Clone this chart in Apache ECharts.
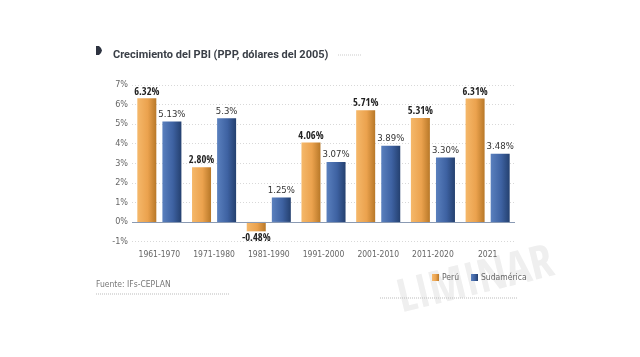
<!DOCTYPE html>
<html><head><meta charset="utf-8">
<script src="https://cdn.jsdelivr.net/npm/echarts@6/dist/echarts.min.js"></script>
<style>html,body{margin:0;padding:0;background:#fff}#c{width:640px;height:357px}</style>
</head><body><div id="c"></div>
<script>
const categories = ['1961-1970','1971-1980','1981-1990','1991-2000','2001-2010','2011-2020','2021'];
const peru = [6.32, 2.80, -0.48, 4.06, 5.71, 5.31, 6.31];
const peruLabels = ['6.32%','2.80%','-0.48%','4.06%','5.71%','5.31%','6.31%'];
const sud = [5.13, 5.3, 1.25, 3.07, 3.89, 3.30, 3.48];
const sudLabels = ['5.13%','5.3%','1.25%','3.07%','3.89%','3.30%','3.48%'];

const chart = echarts.init(document.getElementById('c'));
const cond = '"Open Sans Condensed", "DejaVu Sans Condensed", sans-serif';
const thin = '"DejaVu Sans Condensed", "Liberation Sans", sans-serif';
const orangeGrad = new echarts.graphic.LinearGradient(0,0,1,0,[
  {offset:0,color:'#F5B86A'},{offset:0.55,color:'#EBA24E'},{offset:1,color:'#B87828'}]);
const blueGrad = new echarts.graphic.LinearGradient(0,0,1,0,[
  {offset:0,color:'#5A80BE'},{offset:0.55,color:'#3E62A2'},{offset:1,color:'#24406F'}]);
const peruData = peru.map(v => v < 0 ? {value:v,label:{position:'bottom',distance:1}} : v);
chart.setOption({
  animation:false,
  backgroundColor:'#fff',
  grid:{left:132,right:125,top:85,bottom:115.5},
  title:{text:'Crecimiento del PBI (PPP, dólares del 2005)',left:108,top:45,
    textStyle:{fontFamily:'Roboto, sans-serif',fontSize:11,fontWeight:'bold',color:'#3a3f47'}},
  legend:{data:['Perú','Sudamérica'],left:427,top:268,itemWidth:7,itemHeight:7,itemGap:12,
    icon:'rect',textStyle:{fontFamily:thin,fontSize:8.5,color:'#666',padding:[0,0,0,-2]}},
  xAxis:{type:'category',data:categories,
    axisLine:{show:false},axisTick:{show:false},
    axisLabel:{interval:0,fontFamily:thin,fontSize:8.5,color:'#666',margin:9}},
  yAxis:{type:'value',min:-1,max:7,interval:1,
    axisLabel:{fontFamily:thin,fontSize:9,color:'#666',formatter:v=>v+'%',margin:4},
    axisLine:{show:false},axisTick:{show:false},
    splitLine:{lineStyle:{color:'#d8d8d8',type:[1,2],width:1}}},
  series:[
    {name:'Perú',type:'bar',data:peruData,barWidth:19,barGap:'32%',
     itemStyle:{color:orangeGrad},
     label:{show:true,position:'top',distance:1,fontFamily:cond,fontSize:10.5,fontWeight:'bold',color:'#222',
       formatter:p=>peruLabels[p.dataIndex]},
     markLine:{silent:true,symbol:'none',label:{show:false},lineStyle:{color:'#8a9ab3',type:'solid',width:1.2},data:[{yAxis:0}]}},
    {name:'Sudamérica',type:'bar',data:sud,barWidth:19,
     itemStyle:{color:blueGrad},
     label:{show:true,position:'top',distance:2,fontFamily:thin,fontSize:9.5,color:'#333',
       formatter:p=>sudLabels[p.dataIndex]}}
  ],
  color:['#EBA24E','#3E62A2'],
  graphic:[
    {type:'polygon',shape:{points:[[96,46],[99,46],[101,48],[102,50.5],[101,53],[99,55],[96,55]]},style:{fill:'#2d3340'}},
    {type:'line',shape:{x1:338,y1:55,x2:362,y2:55},style:{stroke:'#ccc',lineWidth:1,lineDash:[1,1]}},
    {type:'text',left:96,top:280,style:{text:'Fuente: IFs-CEPLAN',fontFamily:thin,fontSize:8.5,fill:'#777'}},
    {type:'line',shape:{x1:96,y1:294,x2:230,y2:294},style:{stroke:'#bbb',lineWidth:1,lineDash:[1,1]}},
    {type:'line',shape:{x1:380,y1:298,x2:517,y2:298},style:{stroke:'#bbb',lineWidth:1,lineDash:[1,1]}},
    {type:'text',x:476,y:282,rotation:0.24,z:-1,
     style:{text:'LIMINAR',fontFamily:cond,fontSize:46,fontWeight:'bold',fill:'#efefef',textAlign:'center',textVerticalAlign:'middle'}}
  ]
});
</script></body></html>
